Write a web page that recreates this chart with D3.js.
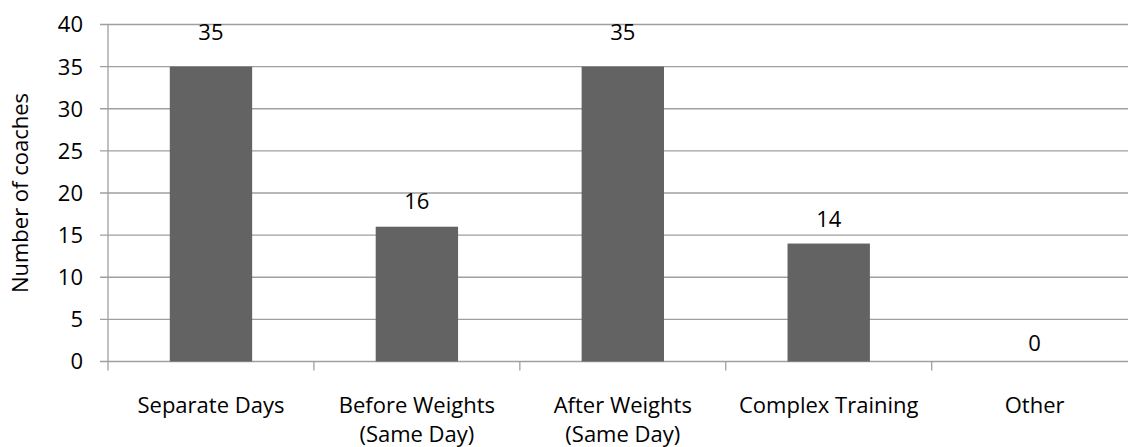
<!DOCTYPE html>
<html><head><meta charset="utf-8">
<script src="https://cdn.jsdelivr.net/npm/d3@7"></script>
<style>body{margin:0;background:#fff}svg{display:block}text{font-family:"Open Sans",sans-serif;fill:#000}</style>
</head><body><svg id="c" width="1128" height="447"></svg>
<script>
const categories = [["Separate Days"],["Before Weights","(Same Day)"],["After Weights","(Same Day)"],["Complex Training"],["Other"]];
const values = [35,16,35,14,0];
const yTicks = [0,5,10,15,20,25,30,35,40];
const yTitle = "Number of coaches";

(function(){
const svg = d3.select("#c");
const pL = 108, pR = 1137.6, pT = 24.5, pB = 361.5;
const keys = categories.map((d,i)=>i);
const x = d3.scaleBand().domain(keys).range([pL,pR]).paddingInner(0).paddingOuter(0);
const y = d3.scaleLinear().domain([0,40]).range([pB,pT]);
const yLab = d3.scaleLinear().domain([0,40]).range([pB-18, pB-18-40*8.9]);
const fs = 22;
const grid = "#9f9f9f";

svg.append("g").selectAll("line").data(yTicks).join("line")
  .attr("x1",pL-8).attr("x2",1128).attr("y1",d=>y(d)).attr("y2",d=>y(d))
  .attr("stroke",grid).attr("stroke-width",1.3);
svg.append("line").attr("x1",pL).attr("x2",pL).attr("y1",pT).attr("y2",pB+9)
  .attr("stroke",grid).attr("stroke-width",1.3);
svg.append("g").selectAll("line").data(keys.slice(1)).join("line")
  .attr("x1",d=>x(d)).attr("x2",d=>x(d)).attr("y1",pB).attr("y2",pB+9)
  .attr("stroke",grid).attr("stroke-width",1.3);
svg.append("g").selectAll("text").data(yTicks).join("text")
  .attr("x",83).attr("y",d=>y(d)).attr("dy","0.36em").attr("text-anchor","end")
  .attr("font-size",fs).text(d=>d);
const bw = x.bandwidth()*0.4;
svg.append("g").selectAll("rect").data(values).join("rect")
  .attr("x",(d,i)=>x(i)+x.bandwidth()/2-bw/2).attr("width",bw)
  .attr("y",d=>y(d)).attr("height",d=>pB-y(d)).attr("fill","#636363");
svg.append("g").selectAll("text").data(values).join("text")
  .attr("x",(d,i)=>x(i)+x.bandwidth()/2).attr("y",d=>yLab(d)).attr("dy","0.36em")
  .attr("text-anchor","middle").attr("font-size",fs).text(d=>d);
const cl = svg.append("g").selectAll("text").data(categories).join("text")
  .attr("text-anchor","middle").attr("font-size",fs);
cl.selectAll("tspan").data((d,i)=>d.map(s=>({s,i}))).join("tspan")
  .attr("x",d=>x(d.i)+x.bandwidth()/2).attr("y",(d,j)=>413+j*29).text(d=>d.s);
svg.append("text").attr("transform",`translate(20,${(pT+pB)/2}) rotate(-90)`)
  .attr("text-anchor","middle").attr("dy","0.36em").attr("font-size",fs).text(yTitle);
})();
</script></body></html>
